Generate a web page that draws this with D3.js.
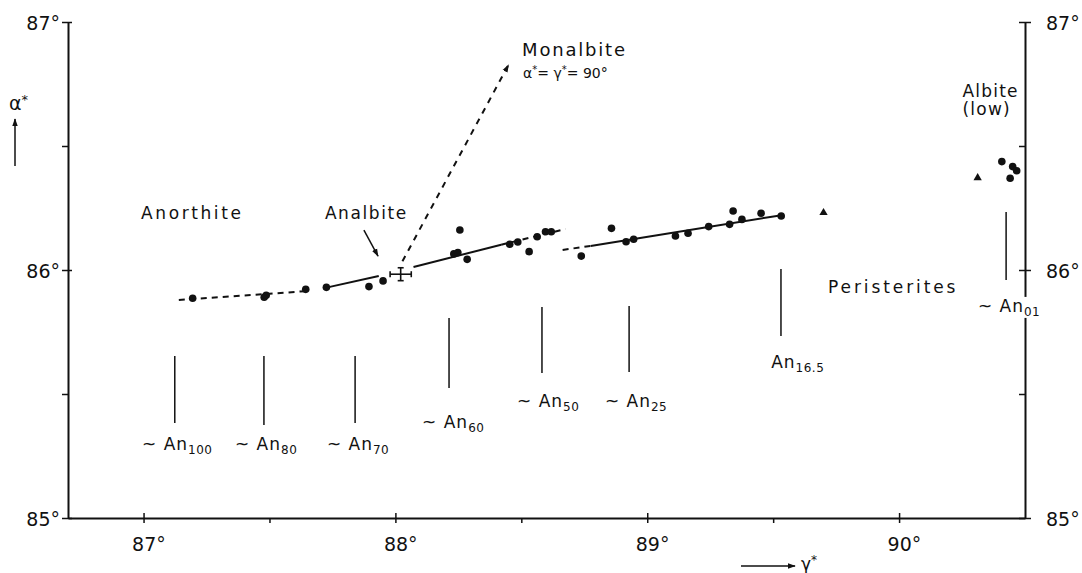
<!DOCTYPE html>
<html><head><meta charset="utf-8">
<script src="https://cdn.jsdelivr.net/npm/d3@7"></script>
<style>
html,body{margin:0;padding:0;background:#fff;}
svg{display:block;}
text{font-family:"DejaVu Sans",sans-serif;fill:#111;}
</style></head>
<body>
<svg id="c" width="1082" height="573"></svg>
<script>
// ---- data ----
const gammaTicks = [87, 87.5, 88, 88.5, 89, 89.5, 90];
const gammaLabels = ["87°", "", "88°", "", "89°", "", "90°"];
const alphaTicks = [85, 85.5, 86, 86.5, 87];
const alphaLabels = ["85°", "", "86°", "", "87°"];

const dotGamma = [87.195, 87.479, 87.487, 87.644, 87.726, 87.895, 87.951, 88.232, 88.248, 88.256, 88.285, 88.454, 88.486, 88.531, 88.563, 88.596, 88.619, 88.738, 88.858, 88.916, 88.946, 89.112, 89.162, 89.244, 89.327, 89.341, 89.376, 89.452, 89.532, 90.408, 90.451, 90.467, 90.441];
const dotAlpha = [85.886, 85.890, 85.898, 85.922, 85.930, 85.933, 85.956, 86.065, 86.070, 86.161, 86.043, 86.104, 86.113, 86.074, 86.134, 86.154, 86.154, 86.056, 86.168, 86.114, 86.124, 86.137, 86.148, 86.175, 86.184, 86.238, 86.204, 86.229, 86.218, 86.437, 86.417, 86.400, 86.370];

const triGamma = [89.700, 90.312];
const triAlpha = [86.231, 86.372];

// analbite with error bar
const analbiteGamma = 88.021, analbiteGammaErr = 0.042;
const analbiteAlpha = 85.983, analbiteAlphaErr = 0.026;

// trend line segments [gamma0, alpha0, gamma1, alpha1, dashed]
const trendSegments = [
  [87.14, 85.879, 87.65, 85.915, true],
  [87.726, 85.929, 87.934, 85.976, false],
  [88.072, 86.012, 88.42, 86.102, false],
  [88.42, 86.102, 88.675, 86.165, true],
  [88.664, 86.081, 88.775, 86.097, true],
  [88.775, 86.097, 89.540, 86.222, false]
];
// Monalbite direction (dashed arrow)
const monalbiteLine = [88.028, 86.035, 88.449, 86.827];

// composition markers
const anGamma = [87.124, 87.478, 87.840, 88.213, 88.582, 88.928, 89.531, 90.425];
const anTop = [85.653, 85.653, 85.653, 85.806, 85.851, 85.855, 86.004, 86.234];
const anBottom = [85.383, 85.375, 85.383, 85.524, 85.585, 85.589, 85.734, 85.960];
const anPrefix = ["~ An", "~ An", "~ An", "~ An", "~ An", "~ An", "An", "~ An"];
const anSub = ["100", "80", "70", "60", "50", "25", "16.5", "01"];
const anLabelGamma = [86.994, 87.363, 87.728, 88.106, 88.483, 88.832, 89.492, 90.313];
const anLabelAlpha = [85.274, 85.274, 85.274, 85.363, 85.448, 85.448, 85.605, 85.831];

// ---- scales ----
const svg = d3.select("#c");
const x = d3.scaleLinear().domain([86.7, 90.5]).range([68, 1025]);
const y = d3.scaleLinear().domain([85, 87]).range([518, 22]);
const ink = "#111";

// ---- axes ----
const bottom = svg.append("g").attr("transform", `translate(0,${y(85)})`)
  .call(d3.axisBottom(x).tickValues(gammaTicks).tickSizeOuter(0).tickFormat(""));
bottom.select(".domain").attr("stroke", ink).attr("stroke-width", 2);
bottom.selectAll(".tick line").attr("stroke", ink).attr("stroke-width", 1.5)
  .attr("y1", d => Number.isInteger(d) ? -5 : 0).attr("y2", 5);
bottom.selectAll(".tick").append("text")
  .attr("x", -12).attr("y", 33).attr("text-anchor", "start")
  .attr("font-size", 19).attr("fill", ink)
  .text((d, i) => gammaLabels[i]);

const left = svg.append("g").attr("transform", `translate(${x(86.7)},0)`)
  .call(d3.axisLeft(y).tickValues(alphaTicks).tickSizeOuter(0).tickFormat(""));
left.select(".domain").attr("stroke", ink).attr("stroke-width", 2);
left.selectAll(".tick line").attr("stroke", ink).attr("stroke-width", 1.5)
  .attr("x1", d => Number.isInteger(d) ? 4 : 0).attr("x2", -6);
left.selectAll(".tick").append("text")
  .attr("x", -8).attr("y", 7).attr("text-anchor", "end")
  .attr("font-size", 19).attr("fill", ink)
  .text((d, i) => alphaLabels[i]);

const right = svg.append("g").attr("transform", `translate(${x(90.5)},0)`)
  .call(d3.axisRight(y).tickValues(alphaTicks).tickSizeOuter(0).tickFormat(""));
right.select(".domain").attr("stroke", ink).attr("stroke-width", 2);
right.selectAll(".tick line").attr("stroke", ink).attr("stroke-width", 1.5)
  .attr("x1", -6).attr("x2", d => Number.isInteger(d) ? 6 : 0);
right.selectAll(".tick").append("text")
  .attr("x", 21).attr("y", 7).attr("text-anchor", "start")
  .attr("font-size", 19).attr("fill", ink)
  .text((d, i) => alphaLabels[i]);

// axis titles with arrows
svg.append("defs").append("marker").attr("id", "ah").attr("viewBox", "0 0 10 10")
  .attr("refX", 9).attr("refY", 5).attr("markerWidth", 8).attr("markerHeight", 8)
  .attr("markerUnits", "userSpaceOnUse").attr("orient", "auto")
  .append("path").attr("d", "M0,1.5 L10,5 L0,8.5 Z").attr("fill", ink);

svg.append("line").attr("x1", 15).attr("y1", 166).attr("x2", 15).attr("y2", 119)
  .attr("stroke", ink).attr("stroke-width", 1.5).attr("marker-end", "url(#ah)");
svg.append("text").attr("x", 9).attr("y", 110).attr("font-size", 19).text("α")
  .append("tspan").attr("dy", -6).attr("font-size", 13).text("*");

svg.append("line").attr("x1", 741).attr("y1", 566).attr("x2", 795).attr("y2", 566)
  .attr("stroke", ink).attr("stroke-width", 1.5).attr("marker-end", "url(#ah)");
svg.append("text").attr("x", 801).attr("y", 570).attr("font-size", 17).text("γ")
  .append("tspan").attr("dy", -6).attr("font-size", 12).text("*");

// ---- trend lines ----
svg.append("g").selectAll("line").data(trendSegments).join("line")
  .attr("x1", d => x(d[0])).attr("y1", d => y(d[1]))
  .attr("x2", d => x(d[2])).attr("y2", d => y(d[3]))
  .attr("stroke", ink).attr("stroke-width", 2)
  .attr("stroke-dasharray", d => d[4] ? "6,5" : null);

svg.append("line")
  .attr("x1", x(monalbiteLine[0])).attr("y1", y(monalbiteLine[1]))
  .attr("x2", x(monalbiteLine[2])).attr("y2", y(monalbiteLine[3]))
  .attr("stroke", ink).attr("stroke-width", 2).attr("stroke-dasharray", "6,6")
  .attr("marker-end", "url(#ah)");

// ---- error bar (analbite) ----
const eb = svg.append("g").attr("stroke", ink).attr("stroke-width", 1.6);
eb.append("line").attr("x1", x(analbiteGamma - analbiteGammaErr)).attr("x2", x(analbiteGamma + analbiteGammaErr))
  .attr("y1", y(analbiteAlpha)).attr("y2", y(analbiteAlpha));
eb.append("line").attr("x1", x(analbiteGamma)).attr("x2", x(analbiteGamma))
  .attr("y1", y(analbiteAlpha - analbiteAlphaErr)).attr("y2", y(analbiteAlpha + analbiteAlphaErr));
[analbiteGamma - analbiteGammaErr, analbiteGamma + analbiteGammaErr].forEach(g =>
  eb.append("line").attr("x1", x(g)).attr("x2", x(g))
    .attr("y1", y(analbiteAlpha) - 3).attr("y2", y(analbiteAlpha) + 3));
[analbiteAlpha - analbiteAlphaErr, analbiteAlpha + analbiteAlphaErr].forEach(a =>
  eb.append("line").attr("x1", x(analbiteGamma) - 3).attr("x2", x(analbiteGamma) + 3)
    .attr("y1", y(a)).attr("y2", y(a)));

// ---- points ----
svg.append("g").selectAll("circle").data(dotGamma).join("circle")
  .attr("cx", d => x(d)).attr("cy", (d, i) => y(dotAlpha[i])).attr("r", 3.8).attr("fill", ink);
svg.append("g").selectAll("path").data(triGamma).join("path")
  .attr("transform", (d, i) => `translate(${x(d)},${y(triAlpha[i])})`)
  .attr("d", d3.symbol(d3.symbolTriangle, 30)).attr("fill", ink);

// ---- composition markers ----
const an = svg.append("g");
anGamma.forEach((g, i) => {
  an.append("line").attr("x1", x(g)).attr("x2", x(g)).attr("y1", y(anTop[i])).attr("y2", y(anBottom[i]))
    .attr("stroke", ink).attr("stroke-width", 1.5);
  const lx = x(anLabelGamma[i]), ly = y(anLabelAlpha[i]);
  if (i === 7) {
    an.append("rect").attr("x", lx - 2).attr("y", ly - 15).attr("width", 58).attr("height", 21).attr("fill", "#fff");
  }
  const t = an.append("text").attr("x", lx).attr("y", ly).attr("font-size", 17).attr("letter-spacing", 1);
  t.append("tspan").text(anPrefix[i]);
  t.append("tspan").attr("dy", 4).attr("font-size", 12).attr("letter-spacing", 0.5).text(anSub[i]);
});

// ---- annotations ----
function label(g, a, txt, size, ls) {
  return svg.append("text").attr("x", x(g)).attr("y", y(a)).attr("font-size", size)
    .attr("letter-spacing", ls).text(txt);
}
label(86.99, 86.206, "Anorthite", 17, 2.6);
label(87.720, 86.206, "Analbite", 17, 1.6);
label(89.718, 85.907, "Peristerites", 17, 2.9);
label(90.252, 86.698, "Albite", 17, 1.2);
label(90.252, 86.625, "(low)", 17, 1.2);
label(88.503, 86.863, "Monalbite", 18, 1.8);

const f = svg.append("text").attr("x", x(88.507)).attr("y", y(86.774)).attr("font-size", 14);
f.append("tspan").text("α");
f.append("tspan").attr("dy", -5).attr("font-size", 10).text("*");
f.append("tspan").attr("dy", 5).text("= γ");
f.append("tspan").attr("dy", -5).attr("font-size", 10).text("*");
f.append("tspan").attr("dy", 5).text("= 90°");

// analbite pointer arrow
svg.append("line").attr("x1", x(87.875)).attr("y1", y(86.161)).attr("x2", x(87.931)).attr("y2", y(86.056))
  .attr("stroke", ink).attr("stroke-width", 1.5).attr("marker-end", "url(#ah)");
</script>
</body></html>
